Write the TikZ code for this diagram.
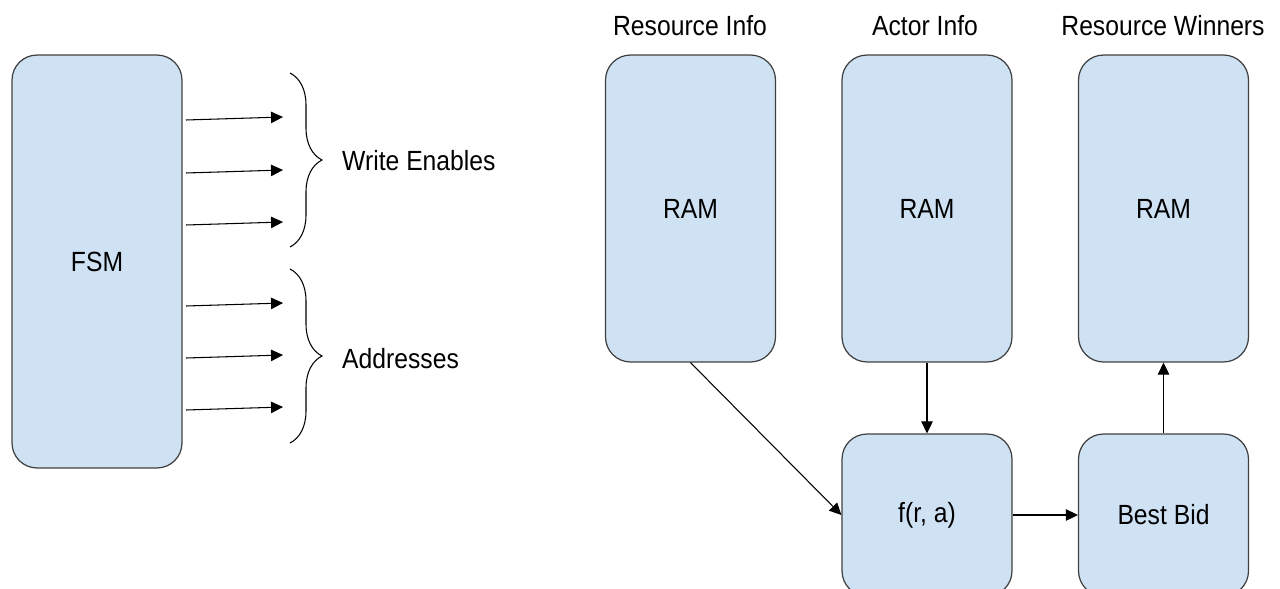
\documentclass[tikz,border=0pt]{standalone}
\usepackage{fontspec}
\setmainfont[FakeStretch=0.89]{Liberation Sans}
\usetikzlibrary{arrows.meta}
\usetikzlibrary{decorations.pathreplacing}

\definecolor{boxblue}{HTML}{CFE2F3}
\definecolor{boxline}{HTML}{404040}

\begin{document}
\begin{tikzpicture}[x=0.02cm,y=-0.02cm,
    font=\fontsize{15.8}{18}\selectfont,
    blk/.style={draw=boxline, fill=boxblue, line width=0.7pt, rounded corners=0.5cm, minimum width=3.4cm, inner sep=0pt},
    conn/.style={line width=0.6pt, -{Triangle[length=6.8pt,width=6.5pt]}},
    brc/.style={decorate, decoration={brace,amplitude=0.64cm}, line width=0.6pt}]
    \useasboundingbox (0,0) rectangle (1280,588);

    % controller side
    \node[blk, minimum height=8.26cm] (fsm) at (97,261.5) {FSM};

    \foreach \k/\ya/\yb in {1/120/117, 2/173/170, 3/225/222, 4/306/303, 5/358/355, 6/410/407}{
        \coordinate (out\k) at (186,\ya);
        \coordinate (pin\k) at (283,\yb);
        \draw[conn] (out\k) -- (pin\k);
    }

    \coordinate (we1) at (290,73);
    \coordinate (we2) at (290,247);
    \coordinate (ad1) at (290,269);
    \coordinate (ad2) at (290,443);
    \draw[brc] (we1) -- (we2);
    \draw[brc] (ad1) -- (ad2);
    \node[anchor=west] (wen) at (336,161) {Write Enables};
    \node[anchor=west] (adr) at (336,359) {Addresses};

    % datapath side
    \node[blk, minimum height=6.14cm] (ri) at (690.5,208.5) {RAM};
    \node[blk, minimum height=6.14cm] (ai) at (927,208.5) {RAM};
    \node[blk, minimum height=6.14cm] (rw) at (1163.5,208.5) {RAM};
    \node (riT) at (690,26) {Resource Info};
    \node (aiT) at (925,26) {Actor Info};
    \node (rwT) at (1163,26) {Resource Winners};

    \node[blk, minimum height=3.24cm] (fra) at (927,515) {f(r, a)};
    \node[blk, minimum height=3.24cm] (bb) at (1163.5,515) {Best Bid};

    \draw[conn] (ri.south) -- (fra.west);
    \draw[conn] (ai.south) -- (fra.north);
    \draw[conn] (fra.east) -- (bb.west);
    \draw[conn] (bb.north) -- (rw.south);
\end{tikzpicture}
\end{document}
